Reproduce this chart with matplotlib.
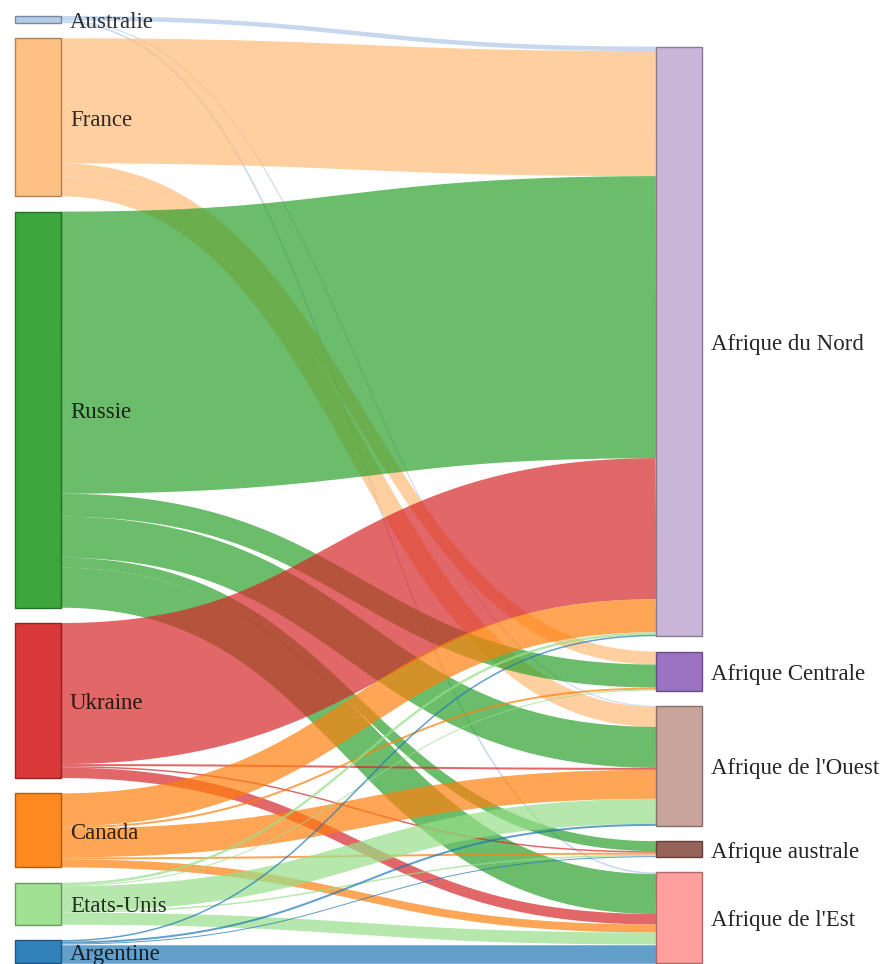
import numpy as np
import matplotlib
matplotlib.use("Agg")
import matplotlib.pyplot as plt
from matplotlib.colors import to_rgb

# exporters (left) and importing regions (right)
sources = ['Australie', 'France', 'Russie', 'Ukraine', 'Canada', 'Etats-Unis', 'Argentine']
targets = ['Afrique du Nord', 'Afrique Centrale', "Afrique de l'Ouest", 'Afrique australe', "Afrique de l'Est"]

# flow values, one list per exporter, in the order of `targets`
australie = [4.5, 0, 1, 0, 1.5]
france = [125, 13, 20, 0, 0]
russie = [282, 23, 41, 10, 40]
ukraine = [141, 0, 2, 1.5, 10.5]
canada = [33, 2, 29, 2, 8]
etats_unis = [2.5, 1, 25, 1.5, 12]
argentine = [1.5, 0, 2, 1, 18.5]

source_colors = ['#aec7e8', '#ffbb78', '#2ca02c', '#d62728', '#ff7f0e', '#98df8a', '#1f77b4']
target_colors = ['#c5b0d5', '#9467bd', '#c49c94', '#8c564b', '#ff9896']

flows = np.array([australie, france, russie, ukraine, canada, etats_unis, argentine], dtype=float)

W, H = 892, 964
DPI = 100
fig = plt.figure(figsize=(W / DPI, H / DPI), dpi=DPI)
ax = fig.add_axes([0, 0, 1, 1])
ax.set_xlim(0, W)
ax.set_ylim(H, 0)
ax.axis('off')

# layout
top, bottom, pad = 16, 963, 15.3
node_w = 46
xl, xr = 15, 656
total = flows.sum()
ky = (bottom - top - (len(sources) - 1) * pad) / total

src_tot = flows.sum(axis=1) * ky
tgt_tot = flows.sum(axis=0) * ky

src_y0 = top + np.concatenate([[0], np.cumsum(src_tot + pad)[:-1]])
start_r = bottom - (tgt_tot.sum() + (len(targets) - 1) * pad)
tgt_y0 = start_r + np.concatenate([[0], np.cumsum(tgt_tot + pad)[:-1]])

# link offsets at each end (sorted by the node on the other side)
src_off = src_y0.copy()
tgt_off = tgt_y0.copy()
links = []
for i in range(len(sources)):
    for j in range(len(targets)):
        v = flows[i, j]
        if v <= 0:
            continue
        w = v * ky
        links.append((i, j, w, src_off[i] + w / 2))
        src_off[i] += w
link_tgt = {}
for j in range(len(targets)):
    for i in range(len(sources)):
        v = flows[i, j]
        if v <= 0:
            continue
        w = v * ky
        link_tgt[(i, j)] = tgt_off[j] + w / 2
        tgt_off[j] += w

x0, x1 = xl + node_w, xr
xm = (x0 + x1) / 2
t = np.linspace(0, 1, 200)
px_to_pt = 72 / DPI
for i, j, w, ys in links:
    yt = link_tgt[(i, j)]
    bx = (1 - t) ** 3 * x0 + 3 * (1 - t) ** 2 * t * xm + 3 * (1 - t) * t ** 2 * xm + t ** 3 * x1
    by = (1 - t) ** 3 * ys + 3 * (1 - t) ** 2 * t * ys + 3 * (1 - t) * t ** 2 * yt + t ** 3 * yt
    ax.plot(bx, by, color=source_colors[i], alpha=0.7, lw=w * px_to_pt,
            solid_capstyle='butt', zorder=1)


def darker(c, f=0.65):
    return tuple(v * f for v in to_rgb(c))


font = dict(family=['Liberation Serif', 'DejaVu Serif'], fontsize=16.5)
for i, name in enumerate(sources):
    ax.add_patch(plt.Rectangle((xl, src_y0[i]), node_w, src_tot[i], facecolor=source_colors[i],
                               alpha=0.92, edgecolor=darker(source_colors[i]), lw=1, zorder=2))
    ax.text(xl + node_w + 9, src_y0[i] + src_tot[i] / 2 + 3, name, ha='left', va='center',
            color='black', alpha=0.8, zorder=3, **font)

for j, name in enumerate(targets):
    ax.add_patch(plt.Rectangle((xr, tgt_y0[j]), node_w, tgt_tot[j], facecolor=target_colors[j],
                               alpha=0.92, edgecolor=darker(target_colors[j]), lw=1, zorder=2))
    ax.text(xr + node_w + 9, tgt_y0[j] + tgt_tot[j] / 2 + 3, name, ha='left', va='center',
            color='black', alpha=0.85, zorder=3, **font)

fig.savefig('out.png', dpi=DPI, facecolor='white')
